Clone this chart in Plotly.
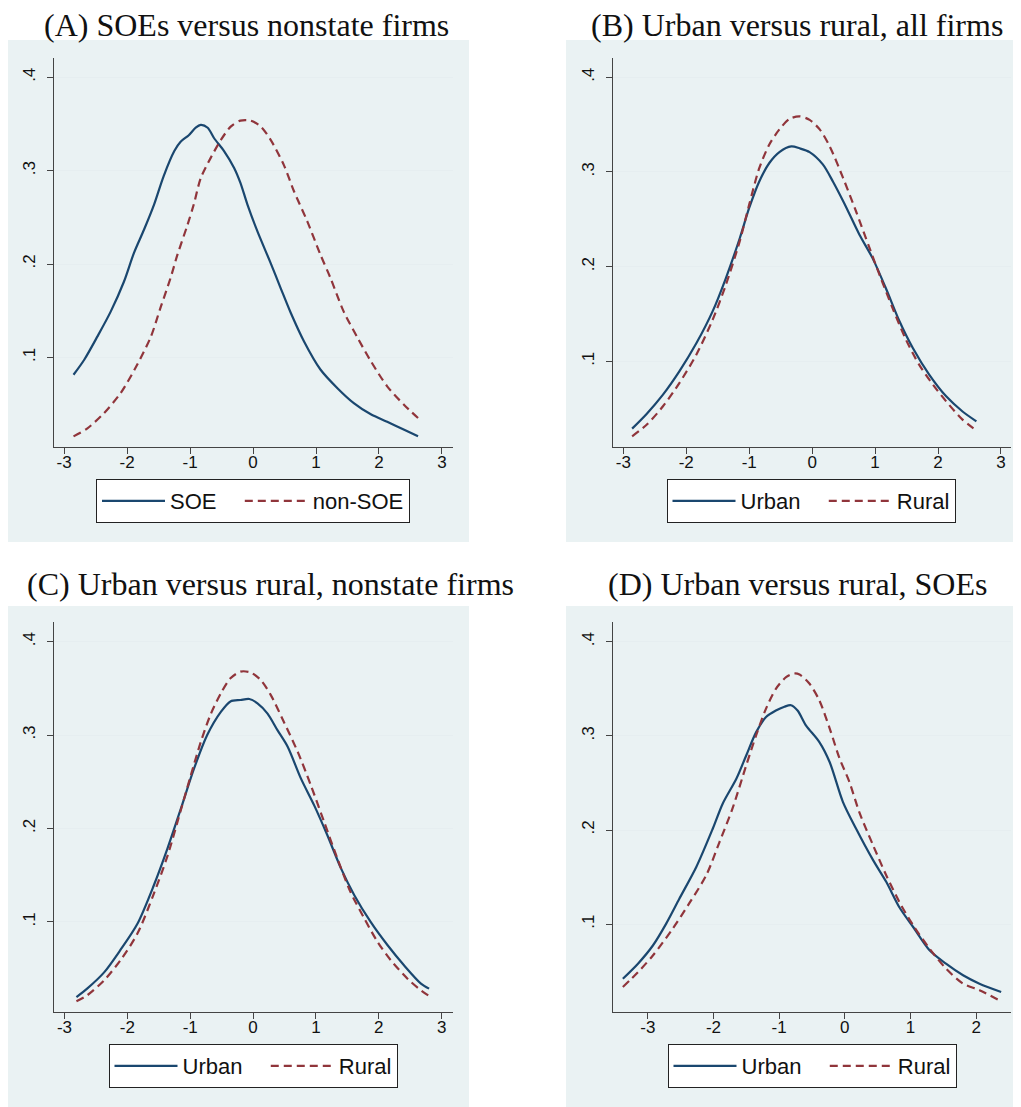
import plotly.graph_objects as go

# ---------------- data ----------------
# Panel A: SOEs versus nonstate firms
a_soe_x = [-2.85, -2.68, -2.47, -2.26, -2.05, -1.89, -1.73, -1.57, -1.42, -1.25, -1.15, -1.02, -0.91, -0.83,
           -0.72, -0.62, -0.46, -0.30, -0.20, -0.09, 0.07, 0.28, 0.44, 0.60, 0.81, 1.07, 1.34, 1.60, 1.87,
           2.13, 2.40, 2.62]
a_soe_y = [0.0814, 0.0975, 0.1225, 0.149, 0.181, 0.212, 0.237, 0.264, 0.294, 0.321, 0.331, 0.338, 0.346, 0.349,
           0.346, 0.335, 0.321, 0.303, 0.287, 0.264, 0.235, 0.201, 0.174, 0.1475, 0.117, 0.087, 0.067, 0.051,
           0.039, 0.031, 0.0225, 0.0154]
a_non_x = [-2.85, -2.63, -2.37, -2.10, -1.84, -1.62, -1.47, -1.31, -1.20, -1.04, -0.94, -0.83, -0.67, -0.51,
           -0.35, -0.20, -0.04, 0.12, 0.28, 0.49, 0.65, 0.86, 1.07, 1.23, 1.44, 1.66, 1.87, 2.13, 2.40, 2.62]
a_non_y = [0.0154, 0.024, 0.040, 0.062, 0.092, 0.1225, 0.153, 0.185, 0.210, 0.242, 0.264, 0.292, 0.314, 0.333,
           0.3475, 0.3536, 0.3536, 0.3475, 0.333, 0.306, 0.278, 0.246, 0.210, 0.185, 0.149, 0.121, 0.096,
           0.069, 0.049, 0.035]

# Panel B: Urban versus rural, all firms
b_urb_x = [-2.86, -2.63, -2.37, -2.11, -1.84, -1.58, -1.37, -1.15, -1.00, -0.84, -0.68, -0.52, -0.33, -0.20,
           -0.04, 0.17, 0.33, 0.51, 0.75, 0.96, 1.17, 1.39, 1.60, 1.86, 2.13, 2.39, 2.61]
b_urb_y = [0.0289, 0.0444, 0.0648, 0.0894, 0.119, 0.153, 0.188, 0.230, 0.262, 0.290, 0.3095, 0.321, 0.327,
           0.325, 0.321, 0.308, 0.290, 0.267, 0.234, 0.209, 0.1775, 0.142, 0.114, 0.086, 0.063, 0.047, 0.0366]
b_rur_x = [-2.86, -2.63, -2.37, -2.11, -1.84, -1.58, -1.37, -1.15, -1.00, -0.84, -0.68, -0.52, -0.36, -0.20,
           -0.04, 0.12, 0.28, 0.49, 0.70, 0.91, 1.07, 1.28, 1.49, 1.70, 1.92, 2.13, 2.39, 2.61]
b_rur_y = [0.0208, 0.033, 0.0525, 0.077, 0.107, 0.144, 0.181, 0.227, 0.2655, 0.304, 0.329, 0.345, 0.356,
           0.3588, 0.355, 0.345, 0.327, 0.294, 0.258, 0.220, 0.1915, 0.156, 0.123, 0.0965, 0.0754, 0.0577,
           0.0384, 0.0268]

# Panel C: Urban versus rural, nonstate firms
c_urb_x = [-2.81, -2.64, -2.37, -2.11, -1.84, -1.58, -1.36, -1.15, -0.94, -0.73, -0.51, -0.36, -0.20, -0.06,
           0.07, 0.23, 0.39, 0.55, 0.76, 0.97, 1.18, 1.40, 1.61, 1.87, 2.14, 2.40, 2.67, 2.80]
c_urb_y = [0.0196, 0.0286, 0.046, 0.070, 0.098, 0.139, 0.179, 0.221, 0.264, 0.300, 0.325, 0.336, 0.3375,
           0.3386, 0.334, 0.323, 0.305, 0.2875, 0.2536, 0.225, 0.193, 0.157, 0.1286, 0.100, 0.075, 0.0536,
           0.034, 0.0286]
c_rur_x = [-2.81, -2.64, -2.37, -2.11, -1.84, -1.58, -1.36, -1.15, -0.99, -0.83, -0.67, -0.51, -0.36, -0.20,
           -0.04, 0.12, 0.28, 0.49, 0.71, 0.92, 1.13, 1.34, 1.55, 1.77, 1.98, 2.19, 2.46, 2.67, 2.80]
c_rur_y = [0.015, 0.0214, 0.0375, 0.059, 0.0875, 0.130, 0.171, 0.2196, 0.257, 0.293, 0.323, 0.345, 0.3607,
           0.3679, 0.367, 0.359, 0.343, 0.314, 0.282, 0.246, 0.207, 0.168, 0.132, 0.1036, 0.0786, 0.059,
           0.039, 0.0268, 0.0207]

# Panel D: Urban versus rural, SOEs
d_urb_x = [-3.38, -3.15, -2.92, -2.72, -2.52, -2.26, -2.01, -1.86, -1.65, -1.50, -1.35, -1.20, -1.05, -0.92,
           -0.82, -0.72, -0.59, -0.39, -0.23, -0.03, 0.17, 0.43, 0.63, 0.83, 1.04, 1.29, 1.54, 1.80, 2.05, 2.38]
d_urb_y = [0.042, 0.058, 0.0776, 0.1006, 0.127, 0.161, 0.2016, 0.228, 0.2547, 0.2795, 0.304, 0.320, 0.327,
           0.331, 0.3326, 0.327, 0.311, 0.2937, 0.272, 0.230, 0.2016, 0.168, 0.145, 0.118, 0.097, 0.0723,
           0.058, 0.0457, 0.0368, 0.028]
d_rur_x = [-3.38, -3.15, -2.92, -2.62, -2.37, -2.11, -1.91, -1.71, -1.50, -1.35, -1.20, -1.05, -0.89, -0.77,
           -0.69, -0.54, -0.39, -0.23, -0.08, 0.07, 0.22, 0.43, 0.63, 0.83, 1.04, 1.29, 1.54, 1.80, 2.05, 2.38]
d_rur_y = [0.0333, 0.049, 0.067, 0.0953, 0.122, 0.152, 0.187, 0.223, 0.269, 0.3007, 0.329, 0.350, 0.3627,
           0.3663, 0.3652, 0.3556, 0.338, 0.3078, 0.276, 0.251, 0.219, 0.1838, 0.152, 0.1236, 0.0988, 0.074,
           0.0528, 0.0368, 0.0298, 0.018]

panel_titles = ["(A) SOEs versus nonstate firms", "(B) Urban versus rural, all firms",
                "(C) Urban versus rural, nonstate firms", "(D) Urban versus rural, SOEs"]
legend_names = [["SOE", "non-SOE"], ["Urban", "Rural"], ["Urban", "Rural"], ["Urban", "Rural"]]
y_ticks = [0.1, 0.2, 0.3, 0.4]
y_ticklabels = [".1", ".2", ".3", ".4"]
x_ticks_abc = [-3, -2, -1, 0, 1, 2, 3]
x_ticks_d = [-3, -2, -1, 0, 1, 2]

# ---------------- layout helpers ----------------
OFF = 8                      # the page body margin shifts the figure by 8 px
W, H = 1021 - OFF, 1107 - OFF
NAVY = "#1A476F"
MAROON = "#90353B"
PANEL_BG = "#EAF2F3"
NBSP = "\u00a0"

def px_x(p):
    return max(0.0, min(1.0, (p - OFF) / W))

def px_y(p):
    return max(0.0, min(1.0, 1 - (p - OFF) / H))

# plot area boxes in screen pixels (left, top, right, bottom)
boxes = [(54, 58, 453, 447), (613, 58, 1011, 447), (54, 622, 453, 1012), (613, 622, 1011, 1012)]
bg_boxes = [(7, 40, 469, 542), (566, 40, 1019, 542), (7, 606, 469, 1107), (566, 606, 1019, 1107)]
title_pos = [(246, 25), (797, 25), (270, 584), (797, 584)]
legend_pos = [(253, 501), (811, 501), (253, 1066), (812, 1066)]
x_ranges = [[-3.16, 3.175], [-3.164, 3.16], [-3.167, 3.18], [-3.53, 2.53]]
y_ranges = [[0.004, 0.4207], [0.0095, 0.4204], [0.0036, 0.421], [0.0067, 0.421]]
x_ticks = [x_ticks_abc, x_ticks_abc, x_ticks_abc, x_ticks_d]

series = [(a_soe_x, a_soe_y, a_non_x, a_non_y),
          (b_urb_x, b_urb_y, b_rur_x, b_rur_y),
          (c_urb_x, c_urb_y, c_rur_x, c_rur_y),
          (d_urb_x, d_urb_y, d_rur_x, d_rur_y)]

fig = go.Figure()
layout = dict(width=W, height=H, margin=dict(l=0, r=0, t=0, b=0, autoexpand=False),
              paper_bgcolor="white", plot_bgcolor="white", showlegend=True,
              shapes=[], annotations=[])

tick_font = dict(family="Liberation Sans, Arial, sans-serif", size=17, color="#111")

for i in range(4):
    n = "" if i == 0 else str(i + 1)
    xa, ya = "x" + n, "y" + n
    lg = "legend" + n
    x1, y1, x2, y2 = series[i]
    fig.add_trace(go.Scatter(x=x1, y=y1, mode="lines", name=legend_names[i][0] + NBSP * 3,
                             line=dict(color=NAVY, width=2.2, shape="spline", smoothing=0.8),
                             xaxis=xa, yaxis=ya, legend=lg))
    fig.add_trace(go.Scatter(x=x2, y=y2, mode="lines", name=legend_names[i][1],
                             line=dict(color=MAROON, width=2.2, shape="spline", smoothing=0.8,
                                       dash="8px,5px"),
                             xaxis=xa, yaxis=ya, legend=lg))
    l, t, r, b = boxes[i]
    layout["xaxis" + n] = dict(domain=[px_x(l), px_x(r)], anchor=ya, range=x_ranges[i],
                               tickvals=x_ticks[i], ticktext=[str(v) for v in x_ticks[i]],
                               ticks="outside", ticklen=6, tickcolor="#444", tickwidth=1,
                               ticklabelstandoff=-7,
                               showline=True, linecolor="#444", linewidth=1.2, mirror=False,
                               showgrid=False, zeroline=False, tickfont=tick_font,
                               automargin=False)
    layout["yaxis" + n] = dict(domain=[px_y(b), px_y(t)], anchor=xa, range=y_ranges[i],
                               tickvals=y_ticks, ticktext=y_ticklabels, tickangle=-90,
                               ticks="outside", ticklen=6, tickcolor="#444", tickwidth=1,
                               ticklabelstandoff=5,
                               showline=True, linecolor="#444", linewidth=1.2,
                               showgrid=True, gridcolor="#E6EEF0", gridwidth=1.2,
                               zeroline=False, tickfont=tick_font, automargin=False)
    bl, bt, br, bb = bg_boxes[i]
    layout["shapes"].append(dict(type="rect", xref="paper", yref="paper",
                                 x0=px_x(bl), x1=px_x(br), y0=px_y(bb), y1=px_y(bt),
                                 fillcolor=PANEL_BG, line=dict(width=0), layer="below"))
    tx, ty = title_pos[i]
    layout["annotations"].append(dict(text=panel_titles[i], xref="paper", yref="paper",
                                      x=px_x(tx), y=px_y(ty), xanchor="center", yanchor="middle",
                                      showarrow=False,
                                      font=dict(family="Liberation Serif, Times New Roman, serif",
                                                size=32, color="#111")))
    lx, ly = legend_pos[i]
    layout[lg] = dict(orientation="h", x=px_x(lx), y=px_y(ly), xanchor="center", yanchor="middle",
                      bgcolor="white", bordercolor="#222", borderwidth=1,
                      font=dict(family="Liberation Sans, Arial, sans-serif", size=22, color="#111"),
                      itemwidth=63)

fig.update_layout(**layout)
fig.write_html("out.html")
